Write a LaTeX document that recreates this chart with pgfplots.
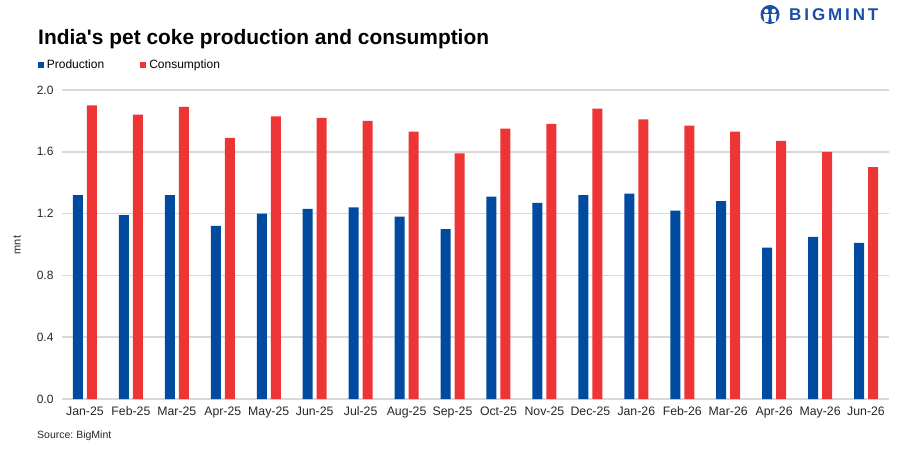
\documentclass[border=0pt]{standalone}
\usepackage{pgfplots}
\pgfplotsset{compat=1.18}
\usepackage{fontspec}
\setmainfont{Liberation Sans}
\frenchspacing
\definecolor{prodblue}{HTML}{004B9F}
\definecolor{consred}{HTML}{EE3535}
\definecolor{gridgray}{HTML}{D9D9D9}
\definecolor{logoblue}{HTML}{1A4FA8}
\begin{document}
\begin{tikzpicture}[x=1pt,y=1pt]
\useasboundingbox (0,0) rectangle (901,453);
\begin{axis}[
  at={(62pt,54pt)}, anchor=south west,
  scale only axis, width=827pt, height=309pt,
  ybar=4pt, bar width=10pt,
  xmin=-0.5, xmax=17.5, ymin=0, ymax=2.0,
  xtick={0,...,17},
  xticklabels={Jan-25,Feb-25,Mar-25,Apr-25,May-25,Jun-25,Jul-25,Aug-25,Sep-25,Oct-25,Nov-25,Dec-25,Jan-26,Feb-26,Mar-26,Apr-26,May-26,Jun-26},
  ytick={0,0.4,0.8,1.2,1.6,2.0},
  /pgf/number format/fixed, /pgf/number format/fixed zerofill,
  /pgf/number format/precision=1, /pgf/number format/assume math mode=true,
  yticklabel style={font=\fontsize{12}{14}\selectfont, text=black!85, xshift=-5pt},
  xticklabel style={font=\fontsize{12.3}{14}\selectfont, text=black!85, text height=9pt, text depth=3pt, yshift=-4pt},
  major tick length=0pt,
  axis line style={draw=none},
  ymajorgrids, grid style={gridgray, line width=1.5pt},
  legend style={at={(-0.0294,1.081)}, anchor=west, draw=none, fill=none, inner sep=0pt,
    font=\fontsize{12}{14}\selectfont, legend columns=2,
    nodes={inner xsep=3pt},
    /tikz/every even column/.append style={column sep=33pt}},
  legend cell align=left,
  legend image code/.code={\fill[#1,draw=none] (0pt,-3pt) rectangle (6pt,3pt);},
]
\addplot[fill=prodblue, draw=none] coordinates {
(0,1.32) (1,1.19) (2,1.32) (3,1.12) (4,1.20) (5,1.23) (6,1.24) (7,1.18) (8,1.10)
(9,1.31) (10,1.27) (11,1.32) (12,1.33) (13,1.22) (14,1.28) (15,0.98) (16,1.05) (17,1.01)};
\addplot[fill=consred, draw=none] coordinates {
(0,1.90) (1,1.84) (2,1.89) (3,1.69) (4,1.83) (5,1.82) (6,1.80) (7,1.73) (8,1.59)
(9,1.75) (10,1.78) (11,1.88) (12,1.81) (13,1.77) (14,1.73) (15,1.67) (16,1.60) (17,1.50)};
\legend{Production,Consumption}
\end{axis}
\node[anchor=base west, inner sep=0pt, font=\fontsize{20.9}{24}\selectfont\bfseries] at (38,408.5) {India\textquotesingle s pet coke production and consumption};
\node[rotate=90, inner sep=0pt, font=\fontsize{11}{13}\selectfont, text=black!85] at (17,208) {mnt};
\node[anchor=base west, inner sep=0pt, font=\fontsize{10.5}{12}\selectfont, text=black!85] at (37,14.7) {Source: BigMint};
% logo
\fill[logoblue] (770,438.5) circle (9.5);
\fill[white] (766.3,442) circle (2.2);
\fill[white] (773.7,442) circle (2.2);
\fill[white] (763.2,438.8) -- (769.2,438.8) -- (768.2,431) -- (764.4,431) -- cycle;
\fill[white] (770.8,438.8) -- (776.8,438.8) -- (775.6,431) -- (771.8,431) -- cycle;
\fill[logoblue] (769.3,430.5) rectangle (770.7,437);
\node[anchor=base west, inner sep=0pt, font=\fontsize{17}{20}\selectfont\bfseries, text=logoblue] at (789,432) {B\kern2.9pt I\kern2.9pt G\kern2.9pt M\kern2.9pt I\kern2.9pt N\kern2.9pt T};
\end{tikzpicture}
\end{document}
